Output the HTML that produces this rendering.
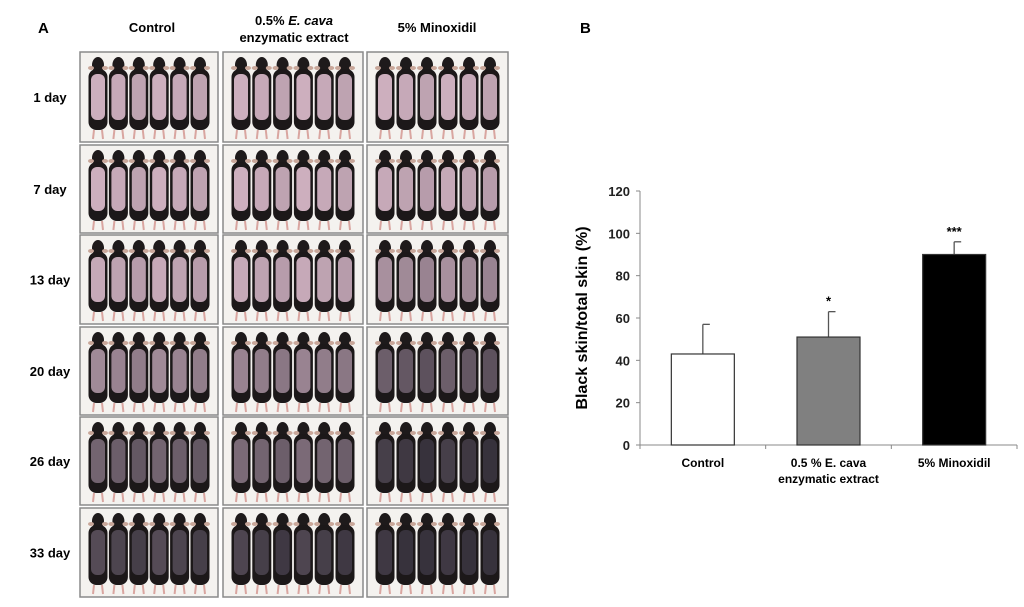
<!DOCTYPE html>
<html><head><meta charset="utf-8"><style>
body{margin:0;background:#fff;width:1024px;height:602px;overflow:hidden;font-family:"Liberation Sans",Arial,sans-serif}
svg text{font-family:"Liberation Sans",Arial,sans-serif;font-weight:bold}
</style></head><body>
<svg id="fig" width="1024" height="602">
<g id="panelA">
<text x="38" y="33" font-size="15" font-weight="normal">A</text>
<text x="152" y="32" font-size="13" text-anchor="middle">Control</text>
<text x="294" y="25" font-size="13" text-anchor="middle">0.5% <tspan font-style="italic">E. cava</tspan></text>
<text x="294" y="42" font-size="13" text-anchor="middle">enzymatic extract</text>
<text x="437" y="32" font-size="13" text-anchor="middle">5% Minoxidil</text>
</g>
<g id="panelB">
<text x="580" y="33" font-size="15" font-weight="normal">B</text>
</g>
</svg>
<script>
const NS="http://www.w3.org/2000/svg";
function mk(p,t,a){const e=document.createElementNS(NS,t);for(const k in a)e.setAttribute(k,a[k]);p.appendChild(e);return e;}
const A=document.getElementById('panelA');
const days=["1 day","7 day","13 day","20 day","26 day","33 day"];
const rowsY=[52,145,235,327,417,508];const rowH=[90,88,89,88,88,89];
const colsX=[80,223,367];const colW=[138,140,141];
const dark=[[0,0,0],[0,0,0.05],[0.05,0.05,0.25],[0.3,0.35,0.65],[0.6,0.55,0.9],[0.8,0.85,0.95]];
days.forEach((d,r)=>{
  const t=mk(A,'text',{x:50,y:rowsY[r]+rowH[r]/2+5,'font-size':13,'text-anchor':'middle'});t.textContent=d;
  
  
  colsX.forEach((x,c)=>{
    const g=mk(A,'g',{});
    
    
    mk(g,'rect',{x:x,y:rowsY[r],width:colW[c],height:rowH[r],fill:'#f4f2ef',stroke:'#8a8a8a','stroke-width':1.5});
    const h=rowH[r];
    for(let i=0;i<6;i++){
      const mx=x+18+i*(colW[c]-36)/5;
      const y0=rowsY[r];
      mk(g,'ellipse',{cx:mx,cy:y0+13,rx:6,ry:8,fill:'#1e1a1b'});
      mk(g,'ellipse',{cx:mx-7,cy:y0+16,rx:3,ry:2,fill:'#c9a79a'});
      mk(g,'ellipse',{cx:mx+7,cy:y0+16,rx:3,ry:2,fill:'#c9a79a'});
      mk(g,'rect',{x:mx-9.5,y:y0+17,width:19,height:h-29,rx:8,fill:'#1c1819'});
      const dk=Math.min(1,dark[r][c]+(i%3)*0.05);
      const pr=Math.round(205-150*dk),pg=Math.round(175-125*dk),pb=Math.round(190-130*dk);
      mk(g,'rect',{x:mx-7,y:y0+22,width:14,height:h-44,rx:6,fill:`rgb(${pr},${pg},${pb})`});
      mk(g,'line',{x1:mx-4,y1:y0+h-12,x2:mx-5,y2:y0+h-3,stroke:'#d9a5a0','stroke-width':2});
      mk(g,'line',{x1:mx+4,y1:y0+h-12,x2:mx+5,y2:y0+h-3,stroke:'#d9a5a0','stroke-width':2});
    }
  });
});
const categories=["Control","0.5 % E. cava|enzymatic extract","5% Minoxidil"];
const means=[43,51,90];
const errs=[14,12,6];
const fills=["#ffffff","#808080","#000000"];
const stars=["","*","***"];
const yTicks=[0,20,40,60,80,100,120];
const B=document.getElementById('panelB');
const x0=640,x1=1017,yZero=445,yTop=191,yMax=120;
const ys=v=>yZero-(v/yMax)*(yZero-yTop);
const cw=(x1-x0)/categories.length;
const xc=i=>x0+cw*(i+0.5);
mk(B,'line',{x1:x0,y1:yTop,x2:x0,y2:yZero,stroke:'#888','stroke-width':1});
mk(B,'line',{x1:x0,y1:yZero,x2:x1,y2:yZero,stroke:'#888','stroke-width':1});
yTicks.forEach(v=>{
  mk(B,'line',{x1:x0-4,y1:ys(v),x2:x0,y2:ys(v),stroke:'#888'});
  const t=mk(B,'text',{x:x0-10,y:ys(v)+5,'font-size':13,'text-anchor':'end',fill:'#222'});t.textContent=v;
  
  
});
for(let i=0;i<=categories.length;i++){mk(B,'line',{x1:x0+cw*i,y1:yZero,x2:x0+cw*i,y2:yZero+4,stroke:'#888'});}
const yt=mk(B,'text',{x:0,y:0,'font-size':16,'text-anchor':'middle',transform:`translate(587,${(yTop+yZero)/2}) rotate(-90)`});
yt.textContent="Black skin/total skin (%)";


categories.forEach((c,i)=>{
  const bw=63,bx=xc(i)-bw/2;
  const e=mk(B,'line',{x1:xc(i),y1:ys(means[i]),x2:xc(i),y2:ys(means[i]+errs[i]),stroke:'#555','stroke-width':1.3});
  
  
  mk(B,'line',{x1:xc(i),y1:ys(means[i]+errs[i]),x2:xc(i)+7,y2:ys(means[i]+errs[i]),stroke:'#555','stroke-width':1.3});
  const r=mk(B,'rect',{x:bx,y:ys(means[i]),width:bw,height:yZero-ys(means[i]),fill:fills[i],stroke:'#333','stroke-width':1.2});
  
  
  if(stars[i]){const s=mk(B,'text',{x:xc(i),y:ys(means[i]+errs[i])-6,'font-size':13,'text-anchor':'middle'});s.textContent=stars[i];
    
    }
  c.split('|').forEach((ln,k)=>{const t=mk(B,'text',{x:xc(i),y:yZero+22+k*16,'font-size':12,'text-anchor':'middle'});t.textContent=ln;
    
    });
});
</script>
</body></html>
